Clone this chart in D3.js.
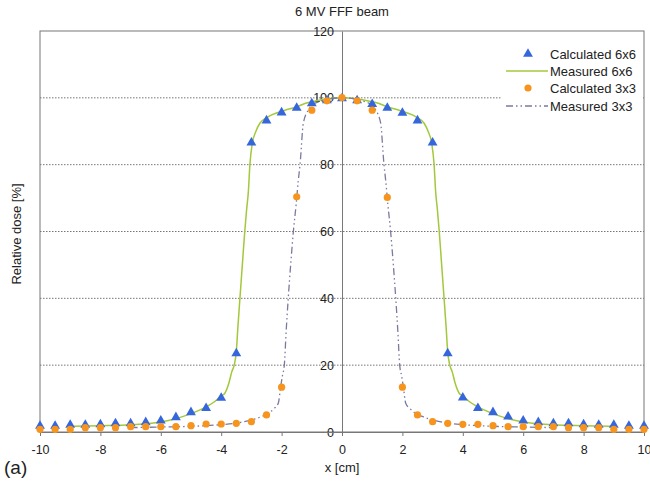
<!DOCTYPE html>
<html><head><meta charset="utf-8">
<script src="https://cdn.jsdelivr.net/npm/d3@7"></script>
<style>
body{margin:0;background:#fff;}
svg text{font-family:"Liberation Sans",Arial,sans-serif;fill:#222;}
</style></head>
<body><svg id="c" width="650" height="483"></svg>
<script>
// ---- data ----
const calcX = [-10,-9.5,-9,-8.5,-8,-7.5,-7,-6.5,-6,-5.5,-5,-4.5,-4,-3.5,-3,-2.5,-2,-1.5,-1,-0.5,0,0.5,1,1.5,2,2.5,3,3.5,4,4.5,5,5.5,6,6.5,7,7.5,8,8.5,9,9.5,10];
const calc6x6 = [1.8,1.8,2.1,2.1,2.3,2.6,2.6,2.9,3.4,4.4,5.9,7.1,10.2,23.5,86.6,93.2,95.6,97.0,98.3,99.2,99.8,99.2,98.1,97.0,95.5,93.2,86.6,23.5,10.3,7.1,5.9,4.6,3.4,2.9,2.6,2.6,2.3,2.1,2.1,1.8,1.8];
const calc3x3 = [0.8,0.8,0.8,1.3,1.3,1.3,1.6,1.6,1.6,1.6,1.9,2.4,2.4,2.6,3.1,5.1,13.4,70.4,96.3,99.1,100.1,99.1,96.3,70.2,13.4,5.1,3.1,2.6,2.3,2.3,1.9,1.6,1.6,1.6,1.6,1.3,1.3,1.3,0.8,0.8,0.8];

const meas6x6X = [-8.9,-8,-7,-6.5,-6,-5.5,-5,-4.5,-4.2,-4.0,-3.88,-3.75,-3.65,-3.57,-3.5,-3.45,-3.38,-3.3,-3.22,-3.16,-3.1,-3.05,-2.97,-2.85,-2.72,-2.5,-2.33,-1.89,-1.5,-1.23,-0.8,-0.4,0,
  0.4,0.8,1.23,1.5,1.89,2.33,2.5,2.72,2.85,2.97,3.05,3.1,3.16,3.22,3.3,3.38,3.45,3.5,3.57,3.65,3.75,3.88,4.0,4.2,4.5,5,5.5,6,6.5,7,8,8.9];
const meas6x6 = [1.7,1.9,2.2,2.5,3.0,4.0,5.5,7.5,9.2,10.8,11.6,14.5,18,20,24,31,40,50,60,66.4,72,80,86.4,90,92.4,94,94.9,96.3,97.3,98.3,99.2,99.8,100,
  99.8,99.2,98.3,97.3,96.3,94.9,94,92.4,90,86.4,80,72,66.4,60,50,40,31,24,20,18,14.5,11.6,10.8,9.2,7.5,5.5,4.0,3.0,2.5,2.2,1.9,1.7];

const meas3x3X = [-7,-6,-5,-4.5,-4,-3.55,-3,-2.7,-2.44,-2.25,-2.11,-2.03,-1.97,-1.91,-1.85,-1.78,-1.7,-1.61,-1.52,-1.45,-1.39,-1.28,-1.12,-1.0,-0.7,-0.4,0,
  0.4,0.7,1.0,1.12,1.28,1.39,1.45,1.52,1.61,1.7,1.78,1.85,1.91,1.97,2.03,2.11,2.25,2.44,2.7,3,3.55,4,4.5,5,6,7];
const meas3x3 = [1.3,1.5,1.7,1.9,2.2,2.6,3.6,4.5,5.6,7,8.6,13.6,17,20,30,40,50,60,68,75,80,92.4,96.3,97.8,99,99.7,100,
  99.7,99,97.8,96.3,92.4,80,75,68,60,50,40,30,20,17,13.6,8.6,7,5.6,4.5,3.6,2.6,2.2,1.9,1.7,1.5,1.3];

const xTicks = [-10,-8,-6,-4,-2,0,2,4,6,8,10];
const yTicks = [0,20,40,60,80,100,120];
const gridVals = [20,40,60,80,100];
const legendLabels = ["Calculated 6x6","Measured 6x6","Calculated 3x3","Measured 3x3"];

// ---- chart ----
const svg = d3.select("#c");
const x = d3.scaleLinear().domain([-10,10]).range([40,644]);
const y = d3.scaleLinear().domain([0,120]).range([432,31]);
const blue = "#3566dc", orange = "#f7941d", green = "#a3c83c", purple = "#7a7a9e", axisCol = "#777";
const dashDot = "7,3,1.5,3,1.5,3";

// grid
svg.append("g").selectAll("line").data(gridVals).join("line")
  .attr("x1",x(-10)).attr("x2",x(10)).attr("y1",d=>y(d)).attr("y2",d=>y(d))
  .attr("stroke","#777").attr("stroke-width",1).attr("stroke-dasharray","1.5,1.5");

// frame
svg.append("rect").attr("x",x(-10)).attr("y",y(120)).attr("width",x(10)-x(-10)).attr("height",y(0)-y(120))
  .attr("fill","none").attr("stroke",axisCol).attr("stroke-width",1);

// legend background
svg.append("rect").attr("x",502).attr("y",44).attr("width",140).attr("height",72).attr("fill","#fff");

// y axis at x=0
const yAxis = svg.append("g").attr("transform",`translate(${x(0)},0)`)
  .call(d3.axisLeft(y).tickValues(yTicks).tickSize(0).tickPadding(8));
yAxis.select(".domain").attr("stroke",axisCol);
yAxis.selectAll("text").attr("font-size",12.5).attr("fill","#222");

// x axis
const xAxis = svg.append("g").attr("transform",`translate(0,${y(0)})`)
  .call(d3.axisBottom(x).tickValues(xTicks).tickSize(4).tickPadding(9).tickFormat(d=>String(d)));
xAxis.select(".domain").attr("stroke",axisCol);
xAxis.selectAll(".tick line").attr("stroke",axisCol);
xAxis.selectAll("text").attr("font-size",12.5).attr("fill","#222");

// lines
const line = d3.line().x(d=>x(d[0])).y(d=>y(d[1])).curve(d3.curveMonotoneX);
svg.append("path").datum(meas6x6X.map((v,i)=>[v,meas6x6[i]])).attr("d",line)
  .attr("fill","none").attr("stroke",green).attr("stroke-width",1.5);
svg.append("path").datum(meas3x3X.map((v,i)=>[v,meas3x3[i]])).attr("d",line)
  .attr("fill","none").attr("stroke",purple).attr("stroke-width",1.3).attr("stroke-dasharray",dashDot);

// markers
const tri = d3.symbol().type(d3.symbolTriangle).size(42);
svg.append("g").selectAll("path").data(calcX.map((v,i)=>[v,calc6x6[i]])).join("path")
  .attr("d",tri).attr("transform",d=>`translate(${x(d[0])},${y(d[1])})`).attr("fill",blue);
svg.append("g").selectAll("circle").data(calcX.map((v,i)=>[v,calc3x3[i]])).join("circle")
  .attr("cx",d=>x(d[0])).attr("cy",d=>y(d[1])).attr("r",3.6).attr("fill",orange);

// legend
const lg = svg.append("g");
const ly = [54,71,88,106];
lg.append("path").attr("d",tri).attr("transform",`translate(528,${ly[0]})`).attr("fill",blue);
lg.append("line").attr("x1",506).attr("x2",548).attr("y1",ly[1]).attr("y2",ly[1]).attr("stroke",green).attr("stroke-width",1.5);
lg.append("circle").attr("cx",528).attr("cy",ly[2]).attr("r",3.6).attr("fill",orange);
lg.append("line").attr("x1",506).attr("x2",548).attr("y1",ly[3]).attr("y2",ly[3]).attr("stroke",purple).attr("stroke-width",1.3).attr("stroke-dasharray",dashDot);
lg.selectAll("text").data(legendLabels).join("text")
  .attr("x",550).attr("y",(d,i)=>ly[i]).attr("dy","0.35em").attr("font-size",13).text(d=>d);

// titles
svg.append("text").attr("x",x(0)).attr("y",16).attr("text-anchor","middle").attr("font-size",13).attr("fill","#333").text("6 MV FFF beam");
svg.append("text").attr("x",x(0)).attr("y",472).attr("text-anchor","middle").attr("font-size",13).text("x [cm]");
svg.append("text").attr("transform","translate(21,234) rotate(-90)").attr("text-anchor","middle").attr("font-size",13).text("Relative dose [%]");
svg.append("text").attr("x",4).attr("y",474).attr("font-size",19).text("(a)");
</script></body></html>
